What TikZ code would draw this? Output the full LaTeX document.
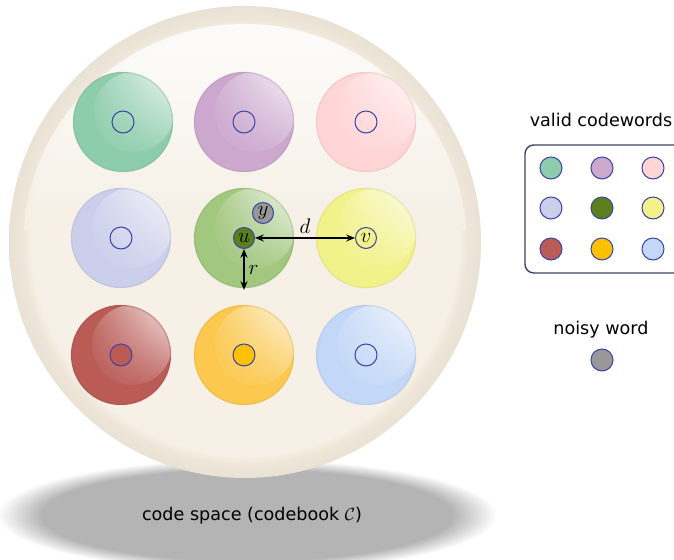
\documentclass[tikz,border=0pt]{standalone}
\usepackage{fontspec}
\setsansfont{DejaVu Sans}
\usetikzlibrary{calc,arrows.meta,shadings}

\definecolor{cwA}{HTML}{8ECDAC}
\definecolor{cwB}{HTML}{CCA8CF}
\definecolor{cwC}{HTML}{FFD5D6}
\definecolor{cwD}{HTML}{CCCFEB}
\definecolor{cwE}{HTML}{5B7F1A}
\definecolor{cwEball}{HTML}{A2C77F}
\definecolor{cwF}{HTML}{F2F28A}
\definecolor{cwG}{HTML}{BA5B56}
\definecolor{cwH}{HTML}{FCC84E}
\definecolor{cwHkey}{HTML}{FFC000}
\definecolor{cwI}{HTML}{C3D8F8}
\definecolor{noisy}{HTML}{989898}
\definecolor{wordblue}{HTML}{3C46A8}
\definecolor{boxblue}{HTML}{3A4466}
\definecolor{bigin}{HTML}{F6F0E6}
\definecolor{bigrim}{HTML}{EEE6D8}
\definecolor{shadowgray}{HTML}{B4B4B4}

\pgfdeclareradialshading{shadowfade}{\pgfpoint{0bp}{0bp}}{color(0bp)=(shadowgray); color(20.5bp)=(shadowgray); color(25bp)=(white); color(50bp)=(white)}
\pgfdeclareradialshading{bigball}{\pgfpoint{0bp}{0bp}}{color(0bp)=(bigin); color(22.6bp)=(bigin); color(23.6bp)=(bigrim); color(25bp)=(bigrim!98!black); color(50bp)=(bigrim!98!black)}

\def\codesphere(#1)#2{\fill[#2] (#1) circle (50);
	\begin{scope}
	\clip (#1) circle (50);
	\clip ($(#1)+(11,10)$) circle (40);
	\shade[upper right=white, lower left=#2, upper left=#2!85!white, lower right=#2!85!white, opacity=0.85] ($(#1)+(-29,-30)$) rectangle ($(#1)+(51,50)$);
	\end{scope}
	\draw[#2!85!black, opacity=0.3, line width=0.8pt] (#1) circle (49.5);}

\begin{document}
\begin{tikzpicture}[x=0.02cm, y=0.02cm, >={Stealth[length=5pt,width=4pt]},
	word/.style={circle, draw=wordblue, line width=0.6pt, minimum size=0.44cm, inner sep=0pt},
	key/.style={word, minimum size=0.44cm},
	letter/.style={font=\large}]
		%%%%% START %%%%%
		\useasboundingbox (0, 0) rectangle (674, 560);
		
		% shadow and code space
		\shade[shading=shadowfade] (247, 45) ellipse (250 and 56);
		\shade[shading=bigball] (245, 318) circle (236);
		\begin{scope}
			\clip (245, 314) circle (222);
			\shade[top color=white, bottom color=bigin, opacity=0.85] (0, 330) rectangle (490, 540);
		\end{scope}
		
		% codeword spheres
		\codesphere(123, 438){cwA}
		\codesphere(244, 438){cwB}
		\codesphere(366, 438){cwC}
		\codesphere(121, 322){cwD}
		\codesphere(244, 322){cwEball}
		\codesphere(366, 322){cwF}
		\codesphere(121, 205){cwG}
		\codesphere(244, 205){cwH}
		\codesphere(366, 205){cwI}
		
		\node[word] (wA) at (123, 438) {};
		\node[word] (wB) at (244, 438) {};
		\node[word] (wC) at (366, 438) {};
		\node[word] (wD) at (121, 322) {};
		\node[word, fill=cwE, minimum size=0.42cm, letter] (u) at (244, 322) {$u$};
		\node[word, fill=cwF, minimum size=0.42cm, letter] (v) at (366, 322) {$v$};
		\node[word, fill=cwG] (wG) at (121, 205) {};
		\node[word, fill=cwHkey] (wH) at (244, 205) {};
		\node[word] (wI) at (366, 205) {};
		\node[word, fill=noisy, minimum size=0.42cm, letter] (y) at (263, 347) {$y$};
		
		% distance and radius
		\coordinate (redge) at (244, 270);
		\draw[<->, line width=0.7pt] (u) -- node[above, letter, yshift=-1pt] {$d$} (v);
		\draw[<->, line width=0.7pt] (u) -- node[right, letter, xshift=-1pt] {$r$} (redge);
		
		\node[font=\sffamily] (cspace) at (252, 44) {code space (codebook $\mathcal{C}$)};
		
		% legend
		\node[font=\sffamily] (validtitle) at (601, 440) {valid codewords};
		\draw[rounded corners=5pt, draw=boxblue, line width=0.8pt] (525, 287) rectangle (710, 415);
		\node[key, fill=cwA] (kA) at (551, 392) {};
		\node[key, fill=cwB] (kB) at (602, 392) {};
		\node[key, fill=cwC] (kC) at (653, 392) {};
		\node[key, fill=cwD] (kD) at (551, 352) {};
		\node[key, fill=cwE] (kE) at (602, 352) {};
		\node[key, fill=cwF] (kF) at (653, 352) {};
		\node[key, fill=cwG] (kG) at (551, 311) {};
		\node[key, fill=cwHkey] (kH) at (602, 311) {};
		\node[key, fill=cwI] (kI) at (653, 311) {};
		
		\node[font=\sffamily] (noisytitle) at (601, 230) {noisy word};
		\node[key, fill=noisy] (kN) at (602, 200) {};
		%%%%% END %%%%%
\end{tikzpicture}
\end{document}
